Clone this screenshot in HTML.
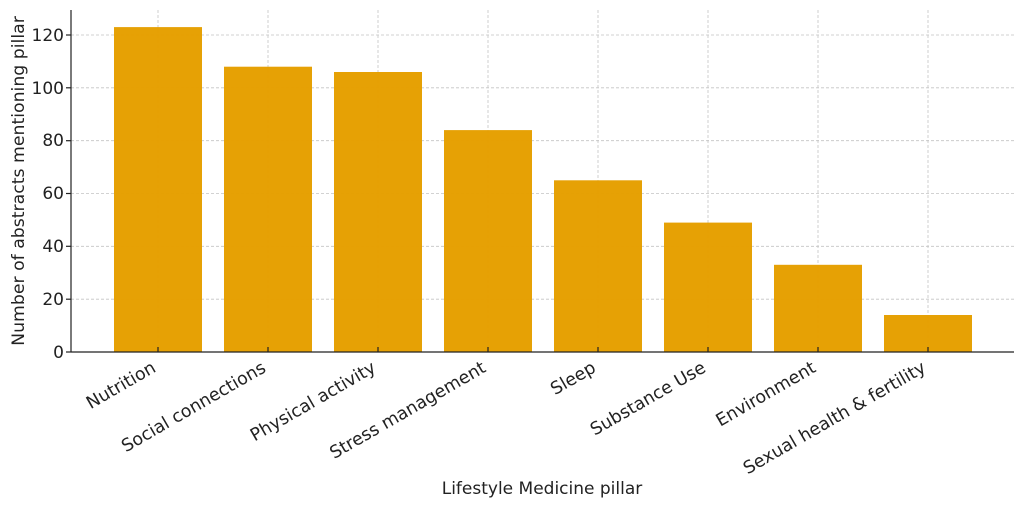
<!DOCTYPE html>
<html><head><style>body{margin:0;background:#fff}svg{display:block;font-family:"DejaVu Sans","Liberation Sans",sans-serif}</style></head>
<body>
<svg width="1024" height="507" viewBox="0 0 1024 507">
<g stroke="#c4c4c4" stroke-width="0.8" stroke-dasharray="3,2">
<line x1="71" x2="1014" y1="299.2" y2="299.2"/>
<line x1="71" x2="1014" y1="246.3" y2="246.3"/>
<line x1="71" x2="1014" y1="193.5" y2="193.5"/>
<line x1="71" x2="1014" y1="140.7" y2="140.7"/>
<line x1="71" x2="1014" y1="87.8" y2="87.8"/>
<line x1="71" x2="1014" y1="35" y2="35"/>
<line x1="158" x2="158" y1="10" y2="352"/><line x1="268" x2="268" y1="10" y2="352"/>
<line x1="378" x2="378" y1="10" y2="352"/><line x1="488" x2="488" y1="10" y2="352"/>
<line x1="598" x2="598" y1="10" y2="352"/><line x1="708" x2="708" y1="10" y2="352"/>
<line x1="818" x2="818" y1="10" y2="352"/><line x1="928" x2="928" y1="10" y2="352"/>
</g>
<g fill="#E69F00" fill-opacity="0.98">
<rect x="114" y="27.1" width="88" height="324.9"/>
<rect x="224" y="66.7" width="88" height="285.3"/>
<rect x="334" y="72" width="88" height="280"/>
<rect x="444" y="130.1" width="88" height="221.9"/>
<rect x="554" y="180.3" width="88" height="171.7"/>
<rect x="664" y="222.6" width="88" height="129.4"/>
<rect x="774" y="264.8" width="88" height="87.2"/>
<rect x="884" y="315" width="88" height="37"/>
</g>
<g stroke="#222" stroke-width="1.2">
<line x1="71" x2="71" y1="10" y2="352"/><line x1="71" x2="1014" y1="352" y2="352"/>
<line x1="66" x2="71" y1="352" y2="352"/><line x1="66" x2="71" y1="299.2" y2="299.2"/>
<line x1="66" x2="71" y1="246.3" y2="246.3"/><line x1="66" x2="71" y1="193.5" y2="193.5"/>
<line x1="66" x2="71" y1="140.7" y2="140.7"/><line x1="66" x2="71" y1="87.8" y2="87.8"/>
<line x1="66" x2="71" y1="35" y2="35"/>
<line x1="158" x2="158" y1="347" y2="352"/><line x1="268" x2="268" y1="347" y2="352"/>
<line x1="378" x2="378" y1="347" y2="352"/><line x1="488" x2="488" y1="347" y2="352"/>
<line x1="598" x2="598" y1="347" y2="352"/><line x1="708" x2="708" y1="347" y2="352"/>
<line x1="818" x2="818" y1="347" y2="352"/><line x1="928" x2="928" y1="347" y2="352"/>
</g>
<g font-size="17" fill="#222" text-anchor="end">
<text x="64" y="358">0</text><text x="64" y="305">20</text><text x="64" y="252">40</text>
<text x="64" y="199">60</text><text x="64" y="146">80</text><text x="64" y="94">100</text><text x="64" y="41">120</text>
</g>
<g font-size="17.5" fill="#222" text-anchor="end">
<text transform="translate(157,371) rotate(-30)">Nutrition</text>
<text transform="translate(267,371) rotate(-30)">Social connections</text>
<text transform="translate(377,371) rotate(-30)">Physical activity</text>
<text transform="translate(487,371) rotate(-30)">Stress management</text>
<text transform="translate(597,371) rotate(-30)">Sleep</text>
<text transform="translate(707,371) rotate(-30)">Substance Use</text>
<text transform="translate(817,371) rotate(-30)">Environment</text>
<text transform="translate(927,371) rotate(-30)">Sexual health &amp; fertility</text>
</g>
<text x="542" y="494" font-size="17" fill="#222" text-anchor="middle">Lifestyle Medicine pillar</text>
<text transform="translate(24,181) rotate(-90)" font-size="17.3" fill="#222" text-anchor="middle">Number of abstracts mentioning pillar</text>
</svg>
</body></html>
